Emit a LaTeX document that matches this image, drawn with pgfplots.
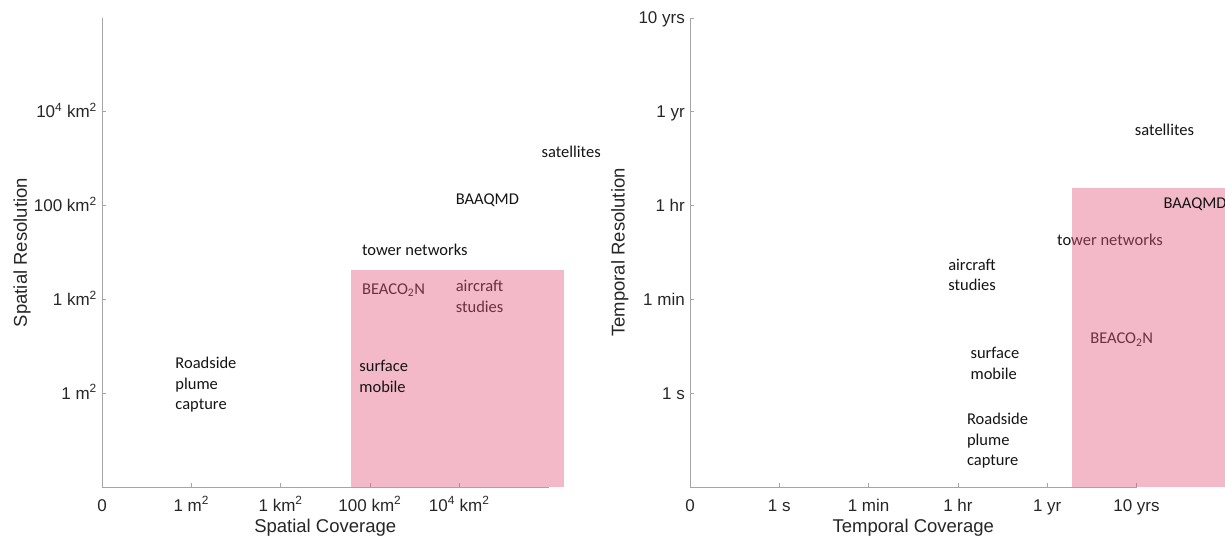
\documentclass[border=0pt]{standalone}
\usepackage{fontspec}
\setmainfont{Liberation Sans}
\newfontfamily\annfont{Carlito}
\usepackage{pgfplots}
\pgfplotsset{compat=1.18}

\definecolor{boxpink}{RGB}{229,88,124}
\definecolor{axgray}{RGB}{165,165,165}
\definecolor{ticktext}{RGB}{38,38,38}
\definecolor{anntext}{RGB}{20,20,20}

\pgfplotsset{
  panel/.style={
    x=89.3pt, y=93.8pt,
    xmin=0, xmax=5, ymin=0, ymax=5,
    axis lines=left,
    axis line style={-, axgray, line width=0.8pt},
    tick style={axgray, line width=0.8pt},
    major tick length=4pt, tick align=inside,
    clip=false,
    ticklabel style={font=\fontsize{17}{20}\selectfont, text=ticktext},
    xticklabel style={anchor=base, inner sep=0pt, yshift=-24pt},
    yticklabel style={anchor=base east, inner sep=0pt, xshift=-5pt, yshift=-6pt},
    label style={font=\fontsize{18.5}{22}\selectfont, text=ticktext},
    xlabel style={at={(axis description cs:0.5,0)}, anchor=center, yshift=-41pt},
  },
}
\tikzset{
  ann/.style={font=\annfont\fontsize{16.5}{20.5}\selectfont, text=anntext,
    align=left, anchor=west, inner sep=0pt},
}

\begin{document}
\begin{tikzpicture}[x=1pt, y=1pt]
\path[use as bounding box] (0,0) rectangle (1225,541);
\clip (0,0) rectangle (1225,541);

% ---------------- spatial panel ----------------
\begin{axis}[panel,
  at={(102pt,54pt)}, anchor=south west,
  xtick={0,1,2,3,4},
  xticklabels={0, 1 m\textsuperscript{2}, 1 km\textsuperscript{2},
    100 km\textsuperscript{2}, 10\textsuperscript{4} km\textsuperscript{2}},
  ytick={1,2,3,4},
  yticklabels={1 m\textsuperscript{2}, 1 km\textsuperscript{2},
    100 km\textsuperscript{2}, 10\textsuperscript{4} km\textsuperscript{2}},
  xlabel={Spatial Coverage},
  ylabel={Spatial Resolution},
  ylabel style={at={(axis description cs:-0.179,0.5)}, anchor=center},
]
% labels lying beneath the shaded box
\node[ann] at (axis cs:2.91,2.10) {BEACO\textsubscript{2}N};
\node[ann] at (axis cs:3.96,2.03) {aircraft\\studies};
% shaded region
\addplot[draw=none, fill=boxpink, fill opacity=0.42]
  coordinates {(2.79,0) (5.17,0) (5.17,2.31) (2.79,2.31)} -- cycle;
% labels on top
\node[ann] at (axis cs:0.82,1.09) {Roadside\\plume\\capture};
\node[ann] at (axis cs:2.88,1.18) {surface\\mobile};
\node[ann] at (axis cs:2.91,2.53) {tower networks};
\node[ann] at (axis cs:3.96,3.06) {BAAQMD};
\node[ann] at (axis cs:4.92,3.57) {satellites};
\end{axis}

% ---------------- temporal panel ----------------
\begin{axis}[panel,
  at={(690pt,54pt)}, anchor=south west,
  xtick={0,1,2,3,4,5},
  xticklabels={0, 1 s, 1 min, 1 hr, 1 yr, 10 yrs},
  ytick={1,2,3,4,5},
  yticklabels={1 s, 1 min, 1 hr, 1 yr, 10 yrs},
  xlabel={Temporal Coverage},
  ylabel={Temporal Resolution},
  ylabel style={at={(axis description cs:-0.157,0.5)}, anchor=center},
]
\node[ann] at (axis cs:4.11,2.63) {tower networks};
\node[ann] at (axis cs:4.48,1.57) {BEACO\textsubscript{2}N};
\addplot[draw=none, fill=boxpink, fill opacity=0.42]
  coordinates {(4.28,0) (7.0,0) (7.0,3.19) (4.28,3.19)} -- cycle;
\node[ann] at (axis cs:3.10,0.49) {Roadside\\plume\\capture};
\node[ann] at (axis cs:3.14,1.32) {surface\\mobile};
\node[ann] at (axis cs:2.89,2.26) {aircraft\\studies};
\node[ann] at (axis cs:5.30,3.01) {BAAQMD};
\node[ann] at (axis cs:4.98,3.81) {satellites};
\end{axis}
\end{tikzpicture}
\end{document}
